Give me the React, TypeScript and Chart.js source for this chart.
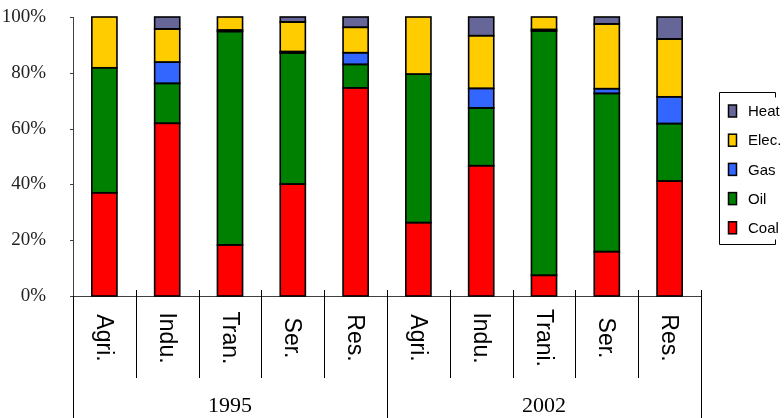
import { useEffect, useRef } from "react";
import { Chart, registerables } from "chart.js";

Chart.register(...registerables);

// Final energy consumption structure by sector, shares in percent
const years = ["1995", "2002"];
const sectors = ["Agri.", "Indu.", "Tran.", "Ser.", "Res.", "Agri.", "Indu.", "Trani.", "Ser.", "Res."];
const coal = [37.0, 61.9, 18.3, 40.1, 74.6, 26.3, 46.7, 7.4, 15.9, 41.2];
const oil = [44.8, 14.3, 76.5, 47.0, 8.4, 53.2, 20.7, 87.6, 56.7, 20.6];
const gas = [0, 7.6, 0.5, 0.5, 4.2, 0, 7.0, 0.5, 1.7, 9.6];
const elec = [18.2, 11.9, 4.7, 10.6, 9.1, 20.5, 18.9, 4.5, 23.2, 20.7];
const heat = [0, 4.3, 0, 1.8, 3.7, 0, 6.7, 0, 2.5, 7.9];
const yTicks = [0, 20, 40, 60, 80, 100];

const seriesNames = ["Coal", "Oil", "Gas", "Elec.", "Heat"];
const seriesColors = ["#FF0000", "#008000", "#3366FF", "#FFCC00", "#666699"];

const SERIF = "'Liberation Serif', 'Times New Roman', serif";
const SANS = "'Liberation Sans', Arial, sans-serif";

// Outlines every stacked segment with a stroke centred on its edges
const outlinePlugin = {
  id: "segmentOutline",
  afterDatasetsDraw(chart: Chart) {
    const { ctx } = chart;
    ctx.save();
    ctx.strokeStyle = "#000";
    ctx.lineWidth = 1.6;
    chart.data.datasets.forEach((ds, di) => {
      const meta = chart.getDatasetMeta(di);
      meta.data.forEach((el: any, i) => {
        const v = ds.data[i] as number;
        if (!v) return;
        const { x, y, base, width } = el.getProps(["x", "y", "base", "width"], true);
        const left = x - width / 2;
        ctx.strokeRect(left, Math.min(y, base), width, Math.abs(base - y));
      });
    });
    ctx.restore();
  },
};

// Draws the sector/year table under the axis, y tick marks and the boxed legend
const tablePlugin = {
  id: "sectorTable",
  afterDraw(chart: Chart) {
    const { ctx, chartArea, scales } = chart;
    const x = scales.x;
    const y = scales.y;
    const n = sectors.length;
    const step = (chartArea.right - chartArea.left) / n;
    const axisY = chartArea.bottom;
    const rowBottom = axisY + 82;
    const fullBottom = chart.height;

    ctx.save();
    ctx.strokeStyle = "#404040";
    ctx.lineWidth = 1;
    yTicks.forEach((v) => {
      const py = Math.round(y.getPixelForValue(v)) + 0.5;
      ctx.beginPath();
      ctx.moveTo(chartArea.left - 3, py);
      ctx.lineTo(chartArea.left, py);
      ctx.stroke();
    });

    ctx.strokeStyle = "#000";
    const perYear = n / years.length;
    for (let i = 0; i <= n; i++) {
      const bx = Math.round(chartArea.left + i * step) + 0.5;
      const isOuter = i % perYear === 0;
      ctx.beginPath();
      ctx.moveTo(bx, i === 0 ? axisY : axisY - 6);
      ctx.lineTo(bx, isOuter ? fullBottom : rowBottom);
      ctx.stroke();
    }

    // rotated sector labels, reading top to bottom
    ctx.fillStyle = "#000";
    ctx.font = `23px ${SANS}`;
    ctx.textAlign = "center";
    ctx.textBaseline = "middle";
    sectors.forEach((s, i) => {
      const cx = x.getPixelForValue(i);
      ctx.save();
      ctx.translate(cx - 1, (axisY + rowBottom) / 2 + 1);
      ctx.rotate(Math.PI / 2);
      ctx.fillText(s, 0, 0);
      ctx.restore();
    });

    // year labels
    ctx.font = `22px ${SERIF}`;
    years.forEach((yr, k) => {
      const left = chartArea.left + k * perYear * step;
      const cx = left + (perYear * step) / 2;
      ctx.fillText(yr, cx, rowBottom + 28);
    });

    // legend box
    const lx = chartArea.right + 18.5;
    const ly = 92.5;
    const lb = 244.5;
    const lr = 775.5;
    ctx.beginPath();
    ctx.moveTo(lr, ly + 5);
    ctx.lineTo(lr, ly);
    ctx.lineTo(lx, ly);
    ctx.lineTo(lx, lb);
    ctx.lineTo(lr, lb);
    ctx.lineTo(lr, lb - 5);
    ctx.stroke();

    ctx.font = `15px ${SANS}`;
    ctx.textAlign = "left";
    const order = [...seriesNames.keys()].reverse();
    order.forEach((si, k) => {
      const cy = 111 + k * 29.2;
      ctx.fillStyle = seriesColors[si];
      ctx.fillRect(lx + 9, cy - 6, 8, 12);
      ctx.strokeStyle = "#000";
      ctx.lineWidth = 1.5;
      ctx.strokeRect(lx + 9, cy - 6, 8, 12);
      ctx.fillStyle = "#000";
      ctx.fillText(seriesNames[si], lx + 28.5, cy + 1);
    });
    ctx.restore();
  },
};

export default function App() {
  const ref = useRef<HTMLCanvasElement | null>(null);

  useEffect(() => {
    if (!ref.current) return;
    const series = [coal, oil, gas, elec, heat];
    const chart = new Chart(ref.current, {
      type: "bar",
      data: {
        labels: sectors.map((s, i) => `${s}${i}`),
        datasets: series.map((d, i) => ({
          label: seriesNames[i],
          data: d,
          backgroundColor: seriesColors[i],
          borderWidth: 0,
          inflateAmount: 0,
          categoryPercentage: 1,
          barPercentage: 0.4,
        })),
      },
      options: {
        responsive: false,
        animation: false,
        devicePixelRatio: 1,
        layout: { padding: { left: 0, top: 17, right: 83, bottom: 0 } },
        plugins: { legend: { display: false }, tooltip: { enabled: false } },
        scales: {
          x: {
            stacked: true,
            grid: { display: false },
            border: { display: true, color: "#404040", width: 1 },
            ticks: { display: false },
            afterFit: (s: any) => {
              s.height = 122;
            },
          },
          y: {
            stacked: true,
            min: 0,
            max: 100,
            afterBuildTicks: (s: any) => {
              s.ticks = yTicks.map((v) => ({ value: v }));
            },
            grid: { display: false },
            border: { display: true, color: "#404040", width: 1 },
            ticks: {
              padding: 19,
              color: "#222",
              font: { family: SERIF, size: 19 },
              callback: (v: any) => `${v}%`,
            },
            afterFit: (s: any) => {
              s.width = 73;
              s.paddingTop = 10;
              s.paddingBottom = 10;
            },
          },
        },
      },
      plugins: [outlinePlugin, tablePlugin],
    });
    return () => chart.destroy();
  }, []);

  return (
    <div style={{ position: "absolute", left: 0, top: 0, width: 784, height: 418, background: "#fff" }}>
      <canvas ref={ref} width={784} height={418} />
    </div>
  );
}
